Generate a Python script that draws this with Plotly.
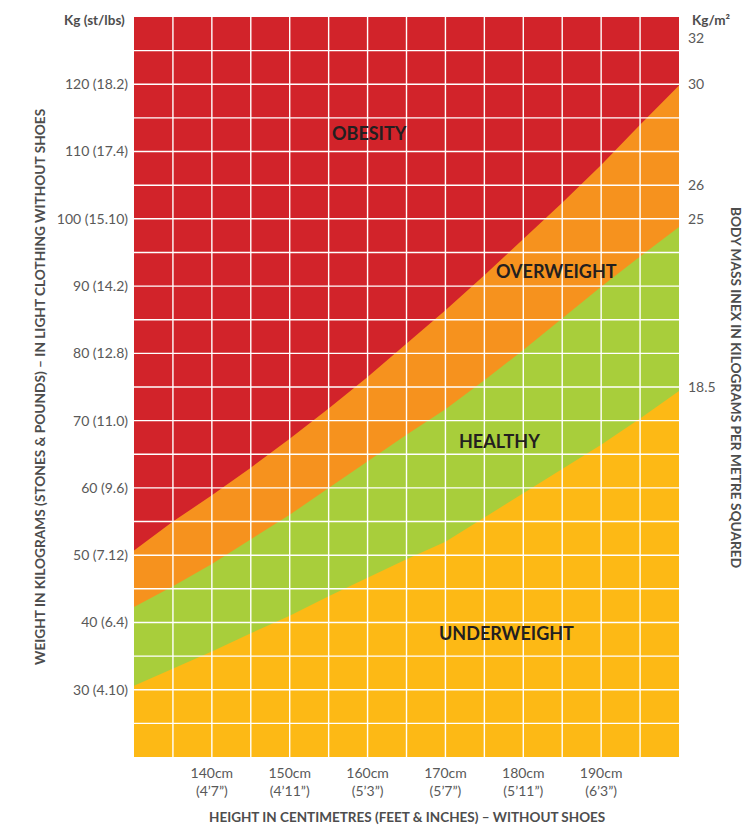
import plotly.graph_objects as go

# ---- data ----
heights_cm = [130, 135, 140, 145, 150, 155, 160, 165, 170, 175, 180, 185, 190, 195, 200]
# boundary weights (kg) between zones
under_healthy = [30.6, 33.1, 35.7, 38.4, 41.0, 43.9, 46.7, 49.4, 52.0, 55.6, 59.2, 62.7, 66.4, 70.3, 74.4]
healthy_over = [42.3, 45.4, 48.7, 52.3, 56.0, 60.0, 64.0, 67.9, 71.7, 76.0, 80.5, 85.2, 89.9, 94.4, 98.8]
over_obese = [50.7, 55.0, 58.9, 63.0, 67.3, 71.8, 76.5, 81.4, 86.4, 91.6, 97.0, 102.4, 108.0, 114.0, 119.8]

x_tickvals = [140, 150, 160, 170, 180, 190]
x_ticktext = ["140cm<br>(4’7”)", "150cm<br>(4’11”)", "160cm<br>(5’3”)",
              "170cm<br>(5’7”)", "180cm<br>(5’11”)", "190cm<br>(6’3”)"]
y_tickvals = [30, 40, 50, 60, 70, 80, 90, 100, 110, 120]
y_ticktext = ["30 (4.10)", "40 (6.4)", "50 (7.12)", "60 (9.6)", "70 (11.0)",
              "80 (12.8)", "90 (14.2)", "100 (15.10)", "110 (17.4)", "120 (18.2)"]
bmi_tickvals = [126.8, 120, 105, 100, 75]
bmi_ticktext = ["32", "30", "26", "25", "18.5"]

zone_names = ["OBESITY", "OVERWEIGHT", "HEALTHY", "UNDERWEIGHT"]
zone_x = [160.3, 184.3, 177.0, 177.9]
zone_y = [112.7, 92.3, 66.9, 38.4]

RED = "#D2232A"
ORANGE = "#F6921E"
GREEN = "#A8CE3B"
YELLOW = "#FDB915"
GREY = "#595959"
TITLE_GREY = "#4D4D4D"
FONT = "Lato"

X_RANGE = [130, 200]
Y_RANGE = [20, 130]
GRID_STEP = 5

fig = go.Figure()
for ys, col, name in [(over_obese, ORANGE, "Overweight"),
                      (healthy_over, GREEN, "Healthy"),
                      (under_healthy, YELLOW, "Underweight")]:
    fig.add_trace(go.Scatter(x=heights_cm, y=ys, mode="lines", fill="tozeroy",
                             fillcolor=col, line=dict(width=0, color=col),
                             name=name, showlegend=False, hoverinfo="skip"))

# invisible trace on right axis
fig.add_trace(go.Scatter(x=[X_RANGE[0]], y=[Y_RANGE[0]], yaxis="y2", mode="markers",
                         marker=dict(opacity=0), showlegend=False, hoverinfo="skip"))

# grid lines drawn above the fills
shapes = []
v = X_RANGE[0] + GRID_STEP
while v < X_RANGE[1]:
    shapes.append(dict(type="line", xref="x", yref="paper", x0=v, x1=v, y0=0, y1=1,
                       line=dict(color="white", width=1.4), layer="above"))
    v += GRID_STEP
v = Y_RANGE[0] + GRID_STEP
while v < Y_RANGE[1]:
    shapes.append(dict(type="line", xref="paper", yref="y", x0=0, x1=1, y0=v, y1=v,
                       line=dict(color="white", width=1.4), layer="above"))
    v += GRID_STEP

annotations = []
for name, zx, zy in zip(zone_names, zone_x, zone_y):
    annotations.append(dict(x=zx, y=zy, xref="x", yref="y", text=f"<b>{name}</b>",
                            showarrow=False, font=dict(family=FONT, size=18, color="#231F20")))

annotations += [
    dict(xref="paper", yref="paper", x=0, y=1, xshift=-7, yshift=-3, xanchor="right", yanchor="middle",
         text="<b>Kg (st/lbs)</b>", showarrow=False, font=dict(family=FONT, size=13.5, color=TITLE_GREY)),
    dict(xref="paper", yref="paper", x=1, y=1, xshift=11, yshift=-3, xanchor="left", yanchor="middle",
         text="<b>Kg/m²</b>", showarrow=False, font=dict(family=FONT, size=13.5, color=TITLE_GREY)),
    dict(xref="paper", yref="paper", x=0, y=0.5, xshift=-95, xanchor="center", yanchor="middle",
         textangle=-90, showarrow=False,
         text="<b>WEIGHT IN KILOGRAMS (STONES & POUNDS) – IN LIGHT CLOTHING WITHOUT SHOES</b>",
         font=dict(family=FONT, size=13.7, color=TITLE_GREY)),
    dict(xref="paper", yref="paper", x=1, y=0.5, xshift=58, xanchor="center", yanchor="middle",
         textangle=90, showarrow=False,
         text="<b>BODY MASS INEX IN KILOGRAMS PER METRE SQUARED</b>",
         font=dict(family=FONT, size=13.7, color=TITLE_GREY)),
    dict(xref="paper", yref="paper", x=0.5, y=0, yshift=-60, xanchor="center", yanchor="middle",
         showarrow=False,
         text="<b>HEIGHT IN CENTIMETRES (FEET & INCHES) – WITHOUT SHOES</b>",
         font=dict(family=FONT, size=13.5, color=TITLE_GREY)),
]

# the page adds an 8px body margin, so the figure is sized/margined to compensate
fig.update_layout(
    width=742, height=819,
    margin=dict(l=126, r=71, t=9, b=70),
    paper_bgcolor="white",
    plot_bgcolor=RED,
    font=dict(family=FONT, color=GREY),
    shapes=shapes,
    annotations=annotations,
    xaxis=dict(range=X_RANGE, showgrid=False, zeroline=False, showline=False,
               tickmode="array", tickvals=x_tickvals, ticktext=x_ticktext,
               tickfont=dict(family=FONT, size=14, color=GREY), ticks="",
               ticklabelstandoff=6, fixedrange=True),
    yaxis=dict(range=Y_RANGE, showgrid=False, zeroline=False, showline=False,
               tickmode="array", tickvals=y_tickvals, ticktext=y_ticktext,
               tickfont=dict(family=FONT, size=14, color=GREY), ticks="",
               ticklabelstandoff=5, fixedrange=True),
    yaxis2=dict(range=Y_RANGE, overlaying="y", side="right", showgrid=False,
                zeroline=False, showline=False, tickmode="array",
                tickvals=bmi_tickvals, ticktext=bmi_ticktext,
                tickfont=dict(family=FONT, size=14, color=GREY), ticks="",
                ticklabelstandoff=8, fixedrange=True),
)

fig.write_html("out.html")
